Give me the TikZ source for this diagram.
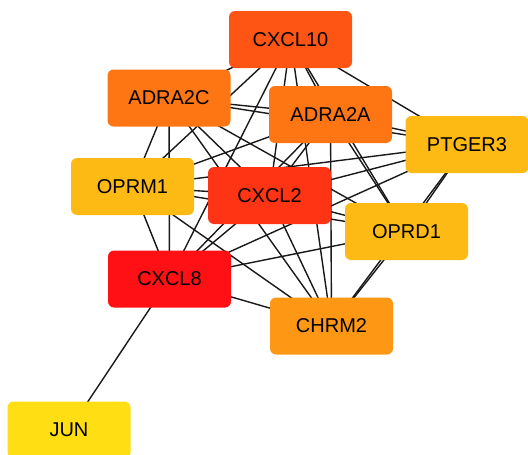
\documentclass[tikz,border=0pt]{standalone}
\usepackage{fontspec}
\setmainfont{Liberation Sans}
\pgfdeclarelayer{bg}
\pgfsetlayers{bg,main}
\definecolor{cA}{HTML}{FE5414}
\definecolor{cB}{HTML}{FE7614}
\definecolor{cC}{HTML}{FEBA14}
\definecolor{cD}{HTML}{FE3414}
\definecolor{cE}{HTML}{FE1014}
\definecolor{cF}{HTML}{FE9814}
\definecolor{cG}{HTML}{FFDE14}
\begin{document}
\begin{tikzpicture}[x=1pt,y=-1pt,
  gene/.style={rounded corners=6pt, minimum width=123pt, minimum height=57pt, inner sep=0pt,
    font=\fontsize{20}{20}\selectfont, text=black},
  link/.style={line width=1.4pt, draw=black!90}]
\useasboundingbox (0,0) rectangle (528,455);
\node[gene, fill=cA] (c10) at (290.5,39.5) {CXCL10};
\node[gene, fill=cB] (a2c) at (169,98) {ADRA2C};
\node[gene, fill=cB] (a2a) at (330.5,114.5) {ADRA2A};
\node[gene, fill=cC] (pt3) at (467,144.5) {PTGER3};
\node[gene, fill=cC] (om1) at (132.5,186.5) {OPRM1};
\node[gene, fill=cD] (c2) at (269.5,195.5) {CXCL2};
\node[gene, fill=cC] (od1) at (406.5,231.5) {OPRD1};
\node[gene, fill=cE] (c8) at (169.5,279) {CXCL8};
\node[gene, fill=cF] (ch2) at (331.5,326) {CHRM2};
\node[gene, fill=cG] (jun) at (69,430) {JUN};
\begin{pgfonlayer}{bg}
\foreach \a/\b in {c10/a2c,c10/a2a,c10/pt3,c10/om1,c10/c2,c10/od1,c10/c8,c10/ch2,
  a2c/a2a,a2c/pt3,a2c/om1,a2c/c2,a2c/od1,a2c/c8,a2c/ch2,
  a2a/pt3,a2a/om1,a2a/c2,a2a/od1,a2a/c8,a2a/ch2,
  pt3/om1,pt3/c2,pt3/od1,pt3/c8,pt3/ch2,
  om1/c2,om1/od1,om1/c8,om1/ch2,
  c2/od1,c2/c8,c2/ch2,
  od1/c8,od1/ch2,
  c8/ch2,c8/jun}
  \draw[link] (\a.center) -- (\b.center);
\end{pgfonlayer}
\end{tikzpicture}
\end{document}
